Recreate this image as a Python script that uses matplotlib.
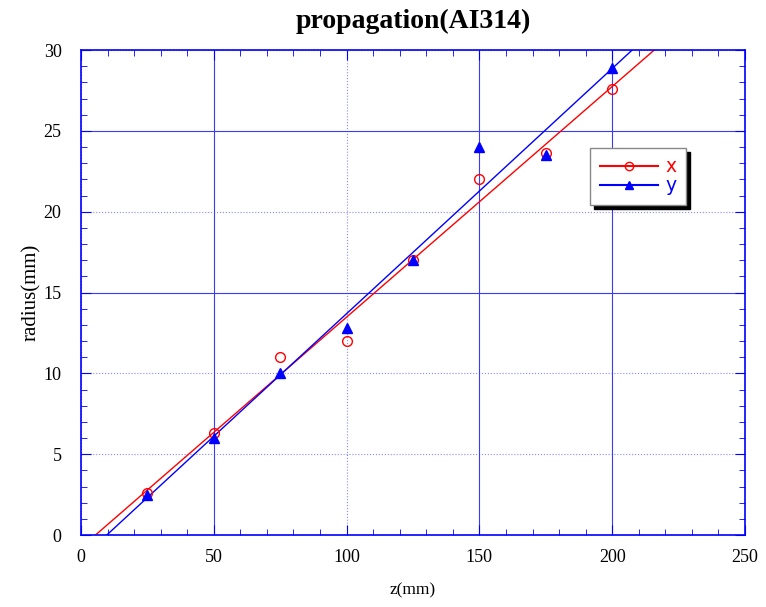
import matplotlib
matplotlib.use("Agg")
import matplotlib.pyplot as plt
import numpy as np
from matplotlib.ticker import MultipleLocator

z = [25, 50, 75, 100, 125, 150, 175, 200]
rx = [2.6, 6.3, 11.0, 12.0, 17.0, 22.0, 23.6, 27.6]
ry = [2.5, 6.0, 10.0, 12.8, 17.0, 24.0, 23.5, 28.9]
xticks = [0, 50, 100, 150, 200, 250]
yticks = [0, 5, 10, 15, 20, 25, 30]

plt.rcParams['font.family'] = ['Liberation Serif', 'DejaVu Serif']

fig = plt.figure(figsize=(7.66, 6.07), dpi=100)
ax = fig.add_axes([0.1057, 0.1186, 0.8669, 0.799])

zz = np.linspace(0, 250, 200)
px = np.polyfit(z, rx, 1)
py = np.polyfit(z, ry, 1)
ax.plot(zz, np.polyval(px, zz), color='red', lw=1.0)
ax.plot(zz, np.polyval(py, zz), color='blue', lw=1.0)
ax.plot(z, rx, 'o', mfc='none', mec='red', ms=7, mew=1.0)
ax.plot(z, ry, '^', color='blue', ms=7)

hx, = ax.plot([], [], '-o', color='red', mfc='none', ms=6)
hy, = ax.plot([], [], '-^', color='blue', ms=6)
leg = ax.legend([hx, hy], ['x', 'y'], loc='upper left', bbox_to_anchor=(0.767, 0.798),
                borderaxespad=0, fancybox=False,
                shadow={'color': 'black', 'alpha': 1, 'ox': 3, 'oy': -3}, framealpha=1,
                edgecolor='#888888', prop={'family': 'DejaVu Sans', 'size': 13.5},
                handlelength=3.1, handletextpad=0.4, borderpad=0.5, labelspacing=0.0)
for t, c in zip(leg.get_texts(), ['red', 'blue']):
    t.set_color(c)

ax.set_xlim(0, 250)
ax.set_ylim(0, 30)
ax.set_xticks(xticks)
ax.set_yticks(yticks)
ax.xaxis.set_minor_locator(MultipleLocator(10))
ax.yaxis.set_minor_locator(MultipleLocator(1))
ax.tick_params(which='both', direction='in', colors='blue', labelcolor='black',
               top=True, right=True, labelsize=13)
ax.tick_params(which='major', length=7)
ax.tick_params(which='minor', length=4)
ax.tick_params(axis='x', which='major', pad=10)
ax.tick_params(axis='y', which='major', pad=14)
for s in ax.spines.values():
    s.set_color('blue')
    s.set_linewidth(1.2)

ax.grid(True, which='major', color='#3a3aff', lw=0.8)
solid_x = {50, 150, 200}
solid_y = {15, 25}
for v, gl in zip(xticks, ax.xaxis.get_gridlines()):
    if v not in solid_x:
        gl.set_linestyle(':')
        gl.set_alpha(0.6)
for v, gl in zip(yticks, ax.yaxis.get_gridlines()):
    if v not in solid_y:
        gl.set_linestyle(':')
        gl.set_alpha(0.6)

ax.set_xlabel('z(mm)', fontsize=12.5, labelpad=12)
ax.set_ylabel('radius(mm)', fontsize=15, labelpad=2)
ax.set_title('propagation(AI314)', fontsize=20, fontweight='bold', pad=16)

fig.savefig('out.png', dpi=100)
